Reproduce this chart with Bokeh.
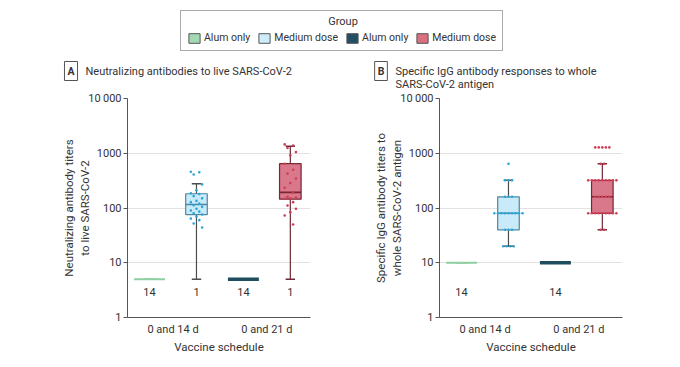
from collections import Counter

from bokeh.plotting import figure
from bokeh.models import (ColumnDataSource, Range1d, FixedTicker, Legend, LegendItem, Label)
from bokeh.layouts import column, row
from bokeh.embed import file_html
from bokeh.resources import INLINE
from bokeh.core.properties import value

FONT = "Roboto"
TXT = "#333333"

# ---------------- data ----------------
schedules = ["0 and 14 d", "0 and 21 d"]
groups = ["Alum only", "Medium dose", "Alum only", "Medium dose"]
y_ticks = [1, 10, 100, 1000, 10000]
y_tick_labels = ["1", "10", "100", "1000", "10\u2009000"]
x_label = "Vaccine schedule"
legend_title = "Group"

# Panel A: neutralizing antibodies
a_title = "Neutralizing antibodies to live SARS-CoV-2"
a_ylabel = "Neutralizing antibody titers\nto live SARS-CoV-2"
a_low = [5, 5, 5, 5]
a_q1 = [5, 76, 5, 145]
a_med = [5, 116, 5, 193]
a_q3 = [5, 182, 5, 645]
a_high = [5, 278, 5, 1340]
a_counts = ["14", "1", "14", "1"]
a_pts_medium_14 = [460, 450, 410, 270, 210, 185, 180, 165, 150, 135, 128, 120,
                   112, 105, 97, 90, 86, 80, 76, 70, 64, 60, 52, 44]
a_pts_medium_21 = [1450, 1380, 1250, 1050, 920, 640, 500, 425, 345, 285, 235, 190,
                   160, 155, 150, 148, 128, 111, 97, 84, 73, 50]

# Panel B: specific IgG
b_title = "Specific IgG antibody responses to whole\nSARS-CoV-2 antigen"
b_ylabel = "Specific IgG antibody titers to\nwhole SARS-CoV-2 antigen"
b_low = [10, 20, 10, 40]
b_q1 = [10, 40, 10, 80]
b_med = [10, 80, 10, 160]
b_q3 = [10, 160, 10, 320]
b_high = [10, 320, 10, 640]
b_counts = ["14", "", "14", ""]
b_pts_medium_14 = [640, 320, 320, 320, 160, 160, 160,
                   80, 80, 80, 80, 80, 80, 80, 80, 80,
                   40, 40, 40, 20, 20, 20, 20]
b_pts_medium_21 = [1280, 1280, 1280, 1280, 1280, 640, 640,
                   320, 320, 320, 320, 320, 320, 320, 320, 320,
                   160, 160, 160, 160, 160,
                   80, 80, 80, 80, 80, 80, 80, 80, 80, 40, 40]

# ---------------- styles ----------------
fill_colors = ["#a3d9b3", "#c9eaf9", "#1f4d5e", "#d9788a"]
edge_colors = ["#8fcfa3", "#4f87a3", "#1f4d5e", "#7a2636"]
whisker_colors = ["#8fcfa3", "#4d4d4d", "#1f4d5e", "#6e2a36"]
median_widths = [2, 1.6, 3.5, 1.6]
line_halfwidths = [0.33, 0.23, 0.33, 0.23]
dot_colors = {1: "#2aa6d6", 3: "#cf3e56"}
legend_fill = ["#a3d9b3", "#cdebfa", "#234f63", "#d8707f"]


def cyc_offsets(vals, step=0.06):
    return [((i * 3) % 5 - 2) * step for i in range(len(vals))]


def same_value_offsets(vals, step=0.075):
    counts = Counter(vals)
    seen = {}
    offs = []
    for v in vals:
        k = seen.get(v, 0)
        seen[v] = k + 1
        offs.append((k - (counts[v] - 1) / 2) * step)
    return offs


H = 91  # header height


def make_panel(width, border_left, border_right, ylabel, low, q1, med, q3, high, counts,
               pts14, pts21, offset_fn):
    p = figure(width=width, height=274, x_range=Range1d(-0.47, 3.43),
               y_range=Range1d(1, 10000), y_axis_type="log",
               output_backend="svg", toolbar_location=None,
               min_border_left=border_left, min_border_right=border_right,
               min_border_top=98 - H, min_border_bottom=274 - (98 - H) - 219)
    p.outline_line_color = None
    xs = list(range(len(groups)))

    src = ColumnDataSource(dict(
        x=xs, low=low, q1=q1, med=med, q3=q3, high=high,
        x0=[x - h for x, h in zip(xs, line_halfwidths)],
        x1=[x + h for x, h in zip(xs, line_halfwidths)],
        c0=[x - 0.1 for x in xs], c1=[x + 0.1 for x in xs],
        fill=fill_colors, edge=edge_colors, wc=whisker_colors, mw=median_widths,
    ))
    # whiskers and caps
    p.segment(x0="x", x1="x", y0="q3", y1="high", line_color="wc", line_width=1.2, source=src)
    p.segment(x0="x", x1="x", y0="q1", y1="low", line_color="wc", line_width=1.2, source=src)
    p.segment(x0="c0", x1="c1", y0="high", y1="high", line_color="wc", line_width=1.5, source=src)
    p.segment(x0="c0", x1="c1", y0="low", y1="low", line_color="wc", line_width=1.5, source=src)
    # boxes
    p.vbar(x="x", width=0.46, bottom="q1", top="q3", fill_color="fill",
           line_color="edge", line_width=1.2, source=src)
    # medians
    p.segment(x0="x0", x1="x1", y0="med", y1="med", line_color="edge",
              line_width="mw", source=src)

    # individual points
    for gi, pts in ((1, pts14), (3, pts21)):
        offs = offset_fn(pts)
        p.scatter(x=[xs[gi] + o for o in offs], y=pts, size=2.6,
                  fill_color=dot_colors[gi], line_color=None, marker="circle")

    # counts at limit of detection
    p.text(x=xs, y=[2.9] * len(xs), text=counts, text_align="center",
           text_baseline="middle", text_font=value(FONT),
           text_font_size="11px", text_color=TXT)

    # axes
    p.yaxis.ticker = FixedTicker(ticks=y_ticks, minor_ticks=[])
    p.yaxis.major_label_overrides = {t: l for t, l in zip(y_ticks, y_tick_labels)}
    p.yaxis.axis_label = ylabel
    p.yaxis.major_tick_out = 4
    p.yaxis.major_tick_in = 0
    p.yaxis.minor_tick_out = 0
    p.yaxis.minor_tick_in = 0
    p.yaxis.major_label_standoff = 2
    p.yaxis.axis_label_standoff = -7

    sched_ticks = [2 * i + 0.5 for i in range(len(schedules))]
    p.xaxis.ticker = FixedTicker(ticks=sched_ticks, minor_ticks=[])
    p.xaxis.major_label_overrides = {t: s for t, s in zip(sched_ticks, schedules)}
    p.xaxis.axis_label = x_label
    p.xaxis.major_tick_out = 0
    p.xaxis.major_tick_in = 0
    p.xaxis.minor_tick_out = 0
    p.xaxis.minor_tick_in = 0
    p.xaxis.major_label_standoff = 5
    p.xaxis.axis_label_standoff = 1

    for ax in (p.xaxis, p.yaxis):
        ax.axis_line_color = "#555555"
        ax.major_tick_line_color = "#555555"
        ax.major_label_text_font = FONT
        ax.major_label_text_font_size = "11px"
        ax.major_label_text_color = TXT
        ax.axis_label_text_font = FONT
        ax.axis_label_text_font_size = "11.5px"
        ax.axis_label_text_font_style = "normal"
        ax.axis_label_text_color = TXT

    p.xgrid.visible = False
    p.ygrid.ticker = FixedTicker(ticks=y_ticks, minor_ticks=[])
    p.ygrid.grid_line_color = "#e2e2e2"
    return p


pA = make_panel(320, 127, 10, a_ylabel, a_low, a_q1, a_med, a_q3, a_high, a_counts,
                a_pts_medium_14, a_pts_medium_21, cyc_offsets)
pB = make_panel(358, 119, 56, b_ylabel, b_low, b_q1, b_med, b_q3, b_high, b_counts,
                b_pts_medium_14, b_pts_medium_21, same_value_offsets)

# ---------------- header: legend and panel headings ----------------
pT = figure(width=678, height=H, x_axis_type=None, y_axis_type=None,
            output_backend="svg", toolbar_location=None, min_border=0,
            x_range=Range1d(0, 1), y_range=Range1d(0, 1))
pT.outline_line_color = None
pT.xgrid.visible = False
pT.ygrid.visible = False
items = []
nan = float("nan")
for g, c in zip(groups, legend_fill):
    r = pT.vbar(x=[nan], top=[nan], width=1, fill_color=c, line_color="#555555", line_width=1)
    items.append(LegendItem(label=g, renderers=[r]))
leg = Legend(items=items, orientation="horizontal", location=(180, H - 51), margin=0,
             padding=6, spacing=7, glyph_width=14, glyph_height=12,
             label_standoff=3, label_height=12, label_width=10,
             label_text_font=FONT, label_text_font_size="10.5px", label_text_color=TXT,
             title=legend_title, title_text_font=FONT, title_text_font_size="10.5px",
             title_text_alpha=0, title_standoff=1,
             border_line_color="#555555", border_line_width=1,
             background_fill_alpha=0)
pT.add_layout(leg, "center")
pT.add_layout(Label(x=342.5, y=H - 21, x_units="screen", y_units="screen", text=legend_title,
                    text_align="center", text_baseline="middle", text_font=FONT,
                    text_font_size="11px", text_color=TXT, level="overlay"))


def heading(letter, cx, tx, title):
    pT.add_layout(Label(x=cx, y=H - 70.5, x_units="screen", y_units="screen", text=letter,
                        text_align="center", text_baseline="middle",
                        text_font=FONT, text_font_size="10.5px", text_font_style="bold",
                        text_color=TXT, border_line_color="#555555",
                        background_fill_color="white", padding=3, level="overlay"))
    pT.add_layout(Label(x=tx, y=H - 64, x_units="screen", y_units="screen", text=title,
                        text_align="left", text_baseline="top", text_line_height=1.05,
                        text_font=FONT, text_font_size="11px", text_color=TXT,
                        level="overlay"))


heading("A", 70.5, 85, a_title)
heading("B", 380.5, 395, b_title)

layout = column(pT, row(pA, pB))

open("out.html", "w").write(file_html(layout, INLINE))
